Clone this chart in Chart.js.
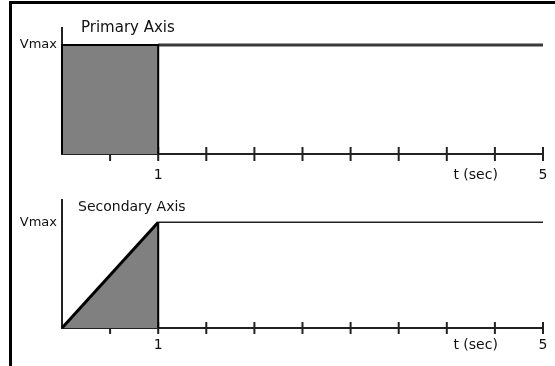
<!DOCTYPE html>
<html>
<head>
<meta charset="utf-8">
<script src="https://cdn.jsdelivr.net/npm/chart.js@4.4.1/dist/chart.umd.min.js"></script>
<style>
  body { margin: 0; background: #fff; }
  .frame { position: absolute; left: 9px; top: 1px; width: 546px; height: 365px; border-left: 3px solid #000; border-top: 3px solid #000; }
  canvas { position: absolute; left: 12px; }
  #primaryChart { top: 4px; }
  #secondaryChart { top: 190px; }
  .title { position: absolute; font-family: "DejaVu Sans", sans-serif; line-height: 1; color: #111; white-space: nowrap; }
</style>
</head>
<body>
<div class="frame"></div>
<canvas id="primaryChart" width="543" height="186"></canvas>
<canvas id="secondaryChart" width="543" height="176"></canvas>
<div class="title" style="left:81px; top:20px; font-size:15px;">Primary Axis</div>
<div class="title" style="left:78px; top:199px; font-size:14px;">Secondary Axis</div>
<script>
// time axis (seconds), tick marks every half second
const tickPositions = [0.5, 1, 1.5, 2, 2.5, 3, 3.5, 4, 4.5, 5];
const xLabelValues = [1, 4.3, 5];
const xLabels = ["1", "t (sec)", "5"];
const yLabelValue = 1;
const yLabel = "Vmax";

// primary axis: step up to Vmax, held
const primaryPulseX = [0, 0, 1, 1];
const primaryPulseY = [0, 1, 1, 0];
const primaryHoldX = [1, 5];
const primaryHoldY = [1, 1];

// secondary axis: ramp up to Vmax in 1 sec, held
const secondaryRampX = [0, 1, 1];
const secondaryRampY = [0, 1, 0];
const secondaryHoldX = [1, 5];
const secondaryHoldY = [1, 1];

const FONT = "'DejaVu Sans', sans-serif";

function points(xs, ys){
    return xs.map((x, i) => ({x: x, y: ys[i]}));
}

function buildChart(canvasId, shape, hold, cfg){
    const ctx = document.getElementById(canvasId).getContext("2d");
    return new Chart(ctx, {
        type: "line",
        data: {
            datasets: [
                {
                    data: points(shape.x, shape.y),
                    fill: "origin",
                    backgroundColor: "#808080",
                    borderColor: "#000",
                    borderWidth: 2,
                    segment: cfg.segment,
                    borderJoinStyle: "miter",
                    pointRadius: 0,
                    tension: 0,
                    clip: false,
                    order: 1
                },
                {
                    data: points(hold.x, hold.y),
                    borderColor: cfg.holdColor,
                    borderWidth: cfg.holdWidth,
                    pointRadius: 0,
                    fill: false,
                    clip: false,
                    order: 2
                },
                {
                    data: tickPositions.map(x => ({x: x, y: 0})),
                    showLine: false,
                    pointStyle: "line",
                    rotation: 90,
                    pointRadius: cfg.tickRadius,
                    borderColor: "#222",
                    borderWidth: 2,
                    clip: false,
                    order: 3
                }
            ]
        },
        options: {
            responsive: false,
            animation: false,
            events: [],
            layout: { autoPadding: false, padding: { top: cfg.padTop, right: 12, left: 0, bottom: 0 } },
            plugins: { legend: { display: false }, tooltip: { enabled: false } },
            scales: {
                x: {
                    type: "linear",
                    min: 0,
                    max: 5,
                    grid: { display: false, drawTicks: false },
                    border: { display: true, color: "#222", width: 2 },
                    afterBuildTicks: scale => { scale.ticks = xLabelValues.map(v => ({value: v})); },
                    afterFit: scale => {
                        scale.height = cfg.xHeight;
                        scale.paddingLeft = 0;
                        scale.paddingRight = 0;
                    },
                    ticks: {
                        autoSkip: false,
                        maxRotation: 0,
                        padding: cfg.xPad,
                        color: "#111",
                        font: { family: FONT, size: 14 },
                        callback: value => xLabels[xLabelValues.indexOf(value)]
                    }
                },
                y: {
                    min: 0,
                    max: cfg.yMax,
                    grid: { display: false, drawTicks: false },
                    border: { display: true, color: "#222", width: 2 },
                    afterBuildTicks: scale => { scale.ticks = [{value: yLabelValue}]; },
                    afterFit: scale => {
                        scale.width = 50;
                        scale.paddingTop = 0;
                        scale.paddingBottom = 0;
                    },
                    ticks: {
                        padding: 5,
                        color: "#111",
                        font: { family: FONT, size: 13 },
                        callback: () => yLabel
                    }
                }
            }
        }
    });
}

buildChart("primaryChart",
    {x: primaryPulseX, y: primaryPulseY},
    {x: primaryHoldX, y: primaryHoldY},
    {padTop: 24, xHeight: 36, xPad: 13, yMax: 1.156, tickRadius: 7, holdColor: "#3a3a3a", holdWidth: 3});

buildChart("secondaryChart",
    {x: secondaryRampX, y: secondaryRampY},
    {x: secondaryHoldX, y: secondaryHoldY},
    {padTop: 10, xHeight: 38, xPad: 9, yMax: 1.21, tickRadius: 6, holdColor: "#222", holdWidth: 1.5,
     segment: { borderWidth: c => c.p0DataIndex === 0 ? 3 : 2 }});
</script>
</body>
</html>
